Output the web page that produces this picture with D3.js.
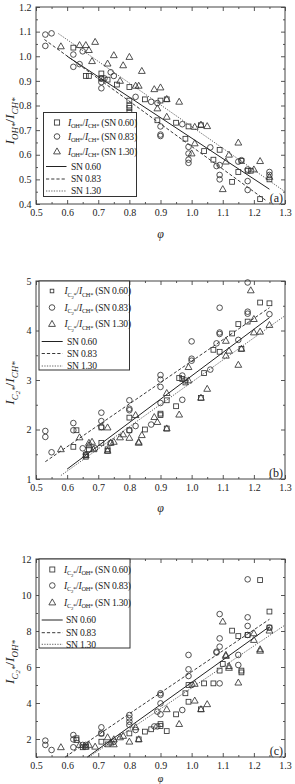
<!DOCTYPE html>
<html><head><meta charset="utf-8">
<script src="https://cdn.jsdelivr.net/npm/d3@7"></script>
<style>
body{margin:0;background:#fff}
svg{display:block}
text{font-family:"Liberation Serif","Times New Roman",serif;fill:#222}
</style>
</head><body>
<script>
// ---------- DATA ----------
const xMajor=[0.5,0.6,0.7,0.8,0.9,1.0,1.1,1.2,1.3];
const xMinor=[0.55,0.65,0.75,0.85,0.95,1.05,1.15,1.25];
const yMajorA=[0.4,0.5,0.6,0.7,0.8,0.9,1.0,1.1,1.2];
const yMinorA=[0.45,0.55,0.65,0.75,0.85,0.95,1.05,1.15];
const yMajorB=[1,2,3,4,5];
const yMinorB=[1.5,2.5,3.5,4.5];
const yMajorC=[2,4,6,8,10,12];
const yMinorC=[1,3,5,7,9,11];
const seriesNames=["SN 0.60","SN 0.83","SN 1.30"];

// panel (a): I_OH*/I_CH*
const aSN060=[[0.62,1.035],[0.66,0.92],[0.67,0.92],[0.71,0.93],[0.71,0.91],[0.73,0.905],[0.76,0.885],[0.80,0.875],[0.80,0.82],[0.80,0.80],[0.80,0.79],[0.80,0.775],[0.85,0.825],[0.90,0.82],[0.92,0.825],[0.89,0.74],[0.95,0.73],[0.99,0.715],[1.03,0.72],[0.98,0.665],[1.04,0.615],[1.07,0.58],[1.09,0.62],[1.13,0.49],[1.15,0.53],[1.16,0.575],[1.18,0.535],[1.19,0.535],[1.22,0.42],[1.25,0.50]];
const aSN083=[[0.53,1.088],[0.55,1.093],[0.53,1.042],[0.62,1.007],[0.65,1.02],[0.62,0.957],[0.64,0.968],[0.71,0.909],[0.71,0.895],[0.71,0.87],[0.74,0.935],[0.75,0.92],[0.72,0.91],[0.82,0.835],[0.87,0.815],[0.89,0.81],[0.90,0.715],[0.90,0.682],[0.90,0.676],[0.97,0.724],[0.99,0.632],[0.99,0.605],[0.99,0.58],[0.99,0.567],[1.06,0.63],[1.08,0.554],[1.09,0.558],[1.09,0.518],[1.09,0.50],[1.15,0.572],[1.16,0.578],[1.18,0.54],[1.18,0.493],[1.18,0.457],[1.25,0.53],[1.25,0.518]];
const aSN130=[[0.58,1.04],[0.64,1.045],[0.66,1.045],[0.67,1.025],[0.69,1.058],[0.68,0.98],[0.73,0.97],[0.75,1.004],[0.78,0.963],[0.80,0.997],[0.84,0.94],[0.77,0.90],[0.82,0.88],[0.83,0.88],[0.88,0.866],[0.90,0.873],[0.92,0.826],[0.96,0.815],[0.89,0.788],[0.92,0.754],[1.01,0.713],[1.03,0.722],[1.05,0.716],[1.01,0.646],[1.00,0.605],[1.10,0.46],[1.12,0.60],[1.11,0.572],[1.15,0.649],[1.20,0.54],[1.22,0.574],[1.25,0.51]];
const aFit060=[[0.60,1.0],[1.25,0.46]];
const aFit083=[[0.527,1.068],[1.237,0.416]];
const aFit130=[[0.572,1.092],[1.30,0.45]];

// panel (b): I_C2*/I_CH*
const bSN060=[[1.22,4.565],[1.25,4.55],[1.18,4.18],[1.15,4.13],[1.13,3.94],[1.07,3.61],[1.09,3.57],[1.16,3.63],[1.04,3.14],[0.96,3.04],[0.97,3.02],[0.98,2.95],[0.95,2.47],[1.03,2.64],[0.92,2.59],[0.90,2.32],[0.90,2.29],[0.92,2.02],[0.85,2.0],[0.80,2.24],[0.80,1.985],[0.73,1.6],[0.73,1.57],[0.71,1.73],[0.71,2.04],[0.66,1.48],[0.66,1.45],[0.67,1.6],[0.63,1.985],[0.62,1.65]];
const bSN083=[[1.18,4.97],[1.09,4.46],[1.25,4.33],[1.18,4.38],[1.18,4.34],[1.09,3.96],[1.09,3.93],[1.15,3.81],[1.08,3.74],[1.00,3.78],[1.00,3.43],[1.00,3.39],[1.06,3.21],[0.97,3.09],[0.98,2.99],[0.90,3.1],[0.90,3.01],[0.90,2.86],[0.97,2.6],[0.90,2.535],[0.87,2.1],[0.82,2.07],[0.80,2.59],[0.80,2.42],[0.80,2.39],[0.71,2.34],[0.71,2.17],[0.71,2.05],[0.69,1.62],[0.65,1.62],[0.66,1.5],[0.62,2.13],[0.62,1.985],[0.55,1.54],[0.53,1.97],[0.53,1.85],[0.74,1.73],[0.80,1.98]];
const bSN130=[[1.19,4.81],[1.20,4.23],[1.25,4.11],[1.20,3.96],[1.22,3.975],[1.11,3.79],[1.12,3.59],[1.11,3.49],[1.15,3.305],[1.16,3.63],[0.99,3.26],[0.99,2.99],[1.05,2.82],[0.92,2.735],[0.96,2.3],[1.03,2.64],[0.89,2.15],[0.88,2.25],[0.92,2.02],[0.84,1.885],[0.83,1.75],[0.83,1.73],[0.82,2.29],[0.80,1.83],[0.78,1.9],[0.77,1.84],[0.75,1.75],[0.74,1.73],[0.73,1.57],[0.73,2.04],[0.68,1.75],[0.67,1.73],[0.67,1.68],[0.685,1.6],[0.64,1.84],[0.58,1.6],[0.66,1.48]];
const bFit060=[[0.60,1.2],[1.25,4.26]];
const bFit083=[[0.53,1.35],[1.25,4.46]];
const bFit130=[[0.58,1.07],[1.30,4.30]];

// panel (c): I_C2*/I_OH*
const cSN060=[[1.22,10.83],[1.25,9.08],[1.13,8.02],[1.15,7.72],[1.18,7.78],[1.25,8.19],[1.10,6.17],[1.09,5.8],[1.16,5.8],[1.16,5.7],[1.04,5.09],[1.07,5.09],[0.99,5.0],[0.98,4.54],[0.99,4.07],[1.03,3.65],[0.95,3.37],[0.90,2.83],[0.90,2.72],[0.92,2.44],[0.87,2.54],[0.85,2.41],[0.83,1.98],[0.80,2.31],[0.73,1.7],[0.71,2.31],[0.71,1.85],[0.66,1.57],[0.65,1.54],[0.63,2.04],[0.63,1.94]];
const cSN083=[[1.18,10.87],[1.09,8.94],[1.18,8.76],[1.18,8.28],[1.25,8.19],[1.09,7.59],[1.18,7.78],[1.09,7.13],[1.08,6.8],[1.15,6.67],[1.08,6.85],[1.15,6.11],[0.99,6.67],[0.99,5.87],[0.99,5.5],[1.09,5.09],[1.0,5.0],[0.90,4.54],[0.90,4.45],[0.90,3.98],[0.97,3.61],[0.90,3.37],[0.89,3.52],[0.88,2.7],[0.89,2.7],[0.80,3.33],[0.80,3.15],[0.80,2.96],[0.80,2.78],[0.82,2.5],[0.75,1.85],[0.71,2.65],[0.71,2.3],[0.65,1.67],[0.66,1.67],[0.62,2.22],[0.62,1.98],[0.62,1.54],[0.55,1.39],[0.53,1.91],[0.53,1.67]];
const cSN130=[[1.10,8.52],[1.25,8.02],[1.20,7.87],[1.20,7.5],[1.22,6.98],[1.11,6.67],[1.11,6.61],[1.22,6.9],[1.12,6.05],[1.12,5.95],[1.15,5.13],[1.01,5.06],[1.01,4.13],[1.05,3.93],[1.03,3.65],[0.92,3.65],[0.96,2.83],[0.83,1.98],[0.80,1.85],[0.82,2.65],[0.78,2.17],[0.77,2.09],[0.75,1.98],[0.73,2.09],[0.69,1.57],[0.67,1.67],[0.64,1.67],[0.58,1.54],[0.66,1.57],[0.75,1.7],[0.74,1.8]];
const cFit060=[[0.665,1.0],[1.25,8.24]];
const cFit083=[[0.594,1.0],[1.25,8.65]];
const cFit130=[[0.67,1.0],[1.30,8.33]];

// ---------- DRAW ----------
const svg=d3.select("body").append("svg").attr("width",295).attr("height",784);
const x0=36,x1=285;

function rich(g,x,y,segs,size,opts={}){
  const t=g.append("text").attr("x",x).attr("y",y).attr("font-size",size);
  if(opts.anchor) t.attr("text-anchor",opts.anchor);
  if(opts.rotate) t.attr("transform",`rotate(-90,${x},${y})`);
  let cur=0;
  const off=[0,size*0.28,size*0.45], fs=[size,size*0.66,size*0.5];
  segs.forEach(s=>{
    const l=s.l||0;
    const sp=t.append("tspan").text(s.t).attr("font-size",fs[l]).attr("dy",off[l]-cur);
    if(s.it) sp.attr("font-style","italic");
    cur=off[l];
  });
  return t;
}
function ratio(num,den,it){
  const segs=[{t:"I",it:true}];
  num.forEach(p=>segs.push({t:p[0],l:p[1],it:it}));
  segs.push({t:"/"});segs.push({t:"I",it:true});
  den.forEach(p=>segs.push({t:p[0],l:p[1],it:it}));
  return segs;
}
const OH=[["OH*",1]], CH=[["CH*",1]], C2=[["C",1],["2",2],["*",1]];

function marker(g,type,cx,cy,s){
  if(type==="sq") g.append("rect").attr("x",cx-s/2).attr("y",cy-s/2).attr("width",s).attr("height",s);
  else if(type==="ci") g.append("circle").attr("cx",cx).attr("cy",cy).attr("r",s/2);
  else { const h=s*0.88; g.append("path").attr("d",`M${cx},${cy-h*0.6}L${cx+s/2},${cy+h*0.4}L${cx-s/2},${cy+h*0.4}Z`); }
}

const panels=[
 {top:7,bottom:204,dom:[0.4,1.2],maj:yMajorA,min:yMinorA,fmt:d3.format(".1f"),
  series:[aSN060,aSN083,aSN130],fits:[aFit060,aFit083,aFit130],tag:"(a)",
  ylab:ratio(OH,CH,true),ylabY:121,xlabY:238,xlabSize:12,
  leg:{x:43.5,y:112.5,w:93,h:84,rows:[122.5,136.5,151.5,166.5,179,191],sx:57,tx:68,lx0:46,lx1:66.5,ltx:71,sq:5.2},
  legLab:ratio(OH,CH,false)},
 {top:281,bottom:479,dom:[1,5],maj:yMajorB,min:yMinorB,fmt:d3.format("d"),
  series:[bSN060,bSN083,bSN130],fits:[bFit060,bFit083,bFit130],tag:"(b)",
  ylab:ratio(C2,CH,true),ylabY:383,xlabY:512,xlabSize:12,
  leg:{x:39,y:281,w:90.5,h:89,rows:[291,307.5,324,341.5,353.5,366],sx:52,tx:64.5,lx0:41.7,lx1:62.7,ltx:67,sq:3.6},
  legLab:ratio(C2,CH,false)},
 {top:559,bottom:757,dom:[1,12],maj:yMajorC,min:yMinorC,fmt:d3.format("d"),
  series:[cSN060,cSN083,cSN130],fits:[cFit060,cFit083,cFit130],tag:"(c)",
  ylab:ratio(C2,OH,true),ylabY:662,xlabY:781.5,xlabSize:10,
  leg:{x:39,y:559,w:91,h:89,rows:[569.5,585.5,602.5,620,632.7,644.3],sx:52.3,tx:64,lx0:41.7,lx1:62.7,ltx:66,sq:5},
  legLab:ratio(C2,OH,false)}
];
const types=["sq","ci","tr"];
const lineStyles=[{da:null,c:"#222",w:1},{da:"3.2,2",c:"#222",w:0.9},{da:"1.3,1.3",c:"#555",w:0.9}];

panels.forEach(p=>{
  const x=d3.scaleLinear().domain([0.5,1.3]).range([x0,x1]);
  const y=d3.scaleLinear().domain(p.dom).range([p.bottom,p.top]);
  const g=svg.append("g");
  const H=p.bottom-p.top, Wd=x1-x0;
  function ax(a,vals,size,lab,tr){
    const gg=g.append("g").attr("transform",tr).call(a.tickValues(vals).tickSize(size).tickSizeOuter(0).tickFormat(lab?lab:""));
    gg.select(".domain").remove();
    gg.selectAll("line").attr("stroke","#444").attr("stroke-width",0.9);
    gg.selectAll("text").attr("font-size",10).attr("fill","#333").attr("font-family","Liberation Serif, serif");
    return gg;
  }
  const bx=ax(d3.axisBottom(x),xMajor,-4,d3.format(".1f"),`translate(0,${p.bottom})`);
  bx.selectAll("text").attr("dy","0.71em").attr("y",5);
  ax(d3.axisBottom(x),xMinor,-2,null,`translate(0,${p.bottom})`);
  ax(d3.axisTop(x),xMajor,-4,null,`translate(0,${p.top})`);
  ax(d3.axisTop(x),xMinor,-2,null,`translate(0,${p.top})`);
  const ly=ax(d3.axisLeft(y),p.maj,-4,p.fmt,`translate(${x0},0)`);
  ly.selectAll("text").attr("x",-4.5);
  ax(d3.axisLeft(y),p.min,-2,null,`translate(${x0},0)`);
  ax(d3.axisRight(y),p.maj,-4,null,`translate(${x1},0)`);
  ax(d3.axisRight(y),p.min,-2,null,`translate(${x1},0)`);
  g.append("rect").attr("x",x0).attr("y",p.top).attr("width",Wd).attr("height",H)
   .attr("fill","none").attr("stroke","#444").attr("stroke-width",1);

  const line=d3.line().x(d=>x(d[0])).y(d=>y(d[1]));
  p.fits.forEach((f,i)=>{
    const ls=lineStyles[i];
    g.append("path").attr("d",line(f)).attr("fill","none").attr("stroke",ls.c)
     .attr("stroke-width",ls.w).attr("stroke-dasharray",ls.da);
  });
  const sizes={sq:4.8,ci:5.6,tr:6.8};
  p.series.forEach((s,i)=>{
    const mg=g.append("g").attr("fill","none").attr("stroke","#333").attr("stroke-width",0.85);
    s.forEach(d=>marker(mg,types[i],x(d[0]),y(d[1]),sizes[types[i]]));
  });

  const L=p.leg;
  g.append("rect").attr("x",L.x).attr("y",L.y).attr("width",L.w).attr("height",L.h)
   .attr("fill","#fff").attr("stroke","#333").attr("stroke-width",1);
  types.forEach((t,i)=>{
    const mg=g.append("g").attr("fill","none").attr("stroke","#333").attr("stroke-width",0.85);
    marker(mg,t,L.sx,L.rows[i],t==="sq"?L.sq:sizes[t]);
    const segs=p.legLab.concat([{t:" ("+seriesNames[i]+")"}]);
    rich(g,L.tx,L.rows[i]+3.2,segs,9.6).attr("letter-spacing",-0.25);
  });
  seriesNames.forEach((n,i)=>{
    const ls=lineStyles[i], yy=L.rows[3+i];
    g.append("line").attr("x1",L.lx0).attr("x2",L.lx1).attr("y1",yy).attr("y2",yy)
     .attr("stroke",ls.c).attr("stroke-width",ls.w).attr("stroke-dasharray",ls.da);
    g.append("text").attr("x",L.ltx).attr("y",yy+3.2).attr("font-size",9.6).attr("letter-spacing",-0.25).text(n);
  });

  g.append("text").attr("x",283).attr("y",p.bottom-2.5).attr("text-anchor","end").attr("font-size",12).text(p.tag);
  rich(g,14,p.ylabY,p.ylab,13.5,{anchor:"middle",rotate:true});
  g.append("text").attr("x",(x0+x1)/2).attr("y",p.xlabY).attr("text-anchor","middle")
   .attr("font-size",p.xlabSize).attr("font-style","italic").text("\u03C6");
});
</script>
</body></html>
